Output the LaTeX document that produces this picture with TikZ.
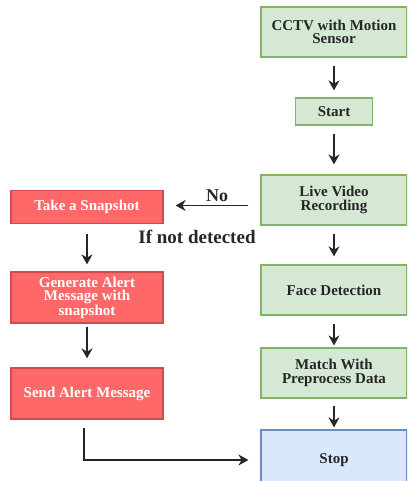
\documentclass[tikz,border=0pt]{standalone}
\usepackage{fontspec}
\setmainfont{Liberation Serif}
\usetikzlibrary{arrows.meta}
\definecolor{greenfill}{HTML}{D5E8D4}
\definecolor{greenline}{HTML}{82B366}
\definecolor{redfill}{HTML}{FF6868}
\definecolor{redline}{HTML}{D24B4B}
\definecolor{bluefill}{HTML}{DAE8FC}
\definecolor{blueline}{HTML}{6C8EBF}
\newcommand{\boxfont}{\bfseries\fontsize{15}{13.5}\selectfont}

\begin{document}
\begin{tikzpicture}[x=1pt, y=-1pt,
    box/.style={draw, line width=1.2pt, align=center, inner sep=0pt, font=\boxfont},
    greenbox/.style={box, draw=greenline, fill=greenfill, text=black!85, minimum width=146pt, minimum height=50pt},
    redbox/.style={box, draw=redline, fill=redfill, text=white, minimum width=152pt, minimum height=51pt},
    bluebox/.style={box, draw=blueline, fill=bluefill, text=black!85, minimum width=146pt, minimum height=60pt},
    arr/.style={-{Stealth[length=10pt, width=11pt]}, line width=1.6pt, black!85},
    lbl/.style={font=\bfseries\fontsize{19}{19}\selectfont, text=black!85}]
  \useasboundingbox (0,0) rectangle (407,481);
  \clip (0,0) rectangle (407,481);
  % main column
  \node[greenbox] (cctv) at (334,32) {CCTV with Motion\\Sensor};
  \node[greenbox, minimum width=77pt, minimum height=27pt] (start) at (334,111.5) {Start};
  \node[greenbox] (live) at (334,200) {Live Video\\Recording};
  \node[greenbox] (face) at (334,290) {Face Detection};
  \node[greenbox] (match) at (334,373) {Match With\\Preprocess Data};
  \node[bluebox] (stop) at (334,460) {Stop};
  % alert column
  \node[redbox, minimum height=33pt] (snap) at (87,207) {Take a Snapshot};
  \node[redbox] (gen) at (87,297.5) {Generate Alert\\Message with\\snapshot};
  \node[redbox] (send) at (87,393.5) {Send Alert Message};
  % arrows
  \foreach \a/\b/\s/\e in {cctv/start/8/7, start/live/8/10, live/face/8/8,
      face/match/8/2, match/stop/7/2, snap/gen/10/7, gen/send/3/9} {
    \draw[arr, shorten <=\s pt, shorten >=\e pt] (\a) -- (\b);
  }
  \draw[arr, shorten <=12pt, shorten >=12pt] ([yshift=1.5pt]snap.east -| live.west) -- ([yshift=1.5pt]snap.east);
  \node[lbl, font=\bfseries\fontsize{18}{18}\selectfont] (no) at (217,196) {No};
  \node[lbl] (notdet) at (197,237) {If not detected};
  \draw[arr, shorten <=8pt, shorten >=12pt] ([xshift=-3pt]send.south) |- (stop.west);
\end{tikzpicture}
\end{document}
